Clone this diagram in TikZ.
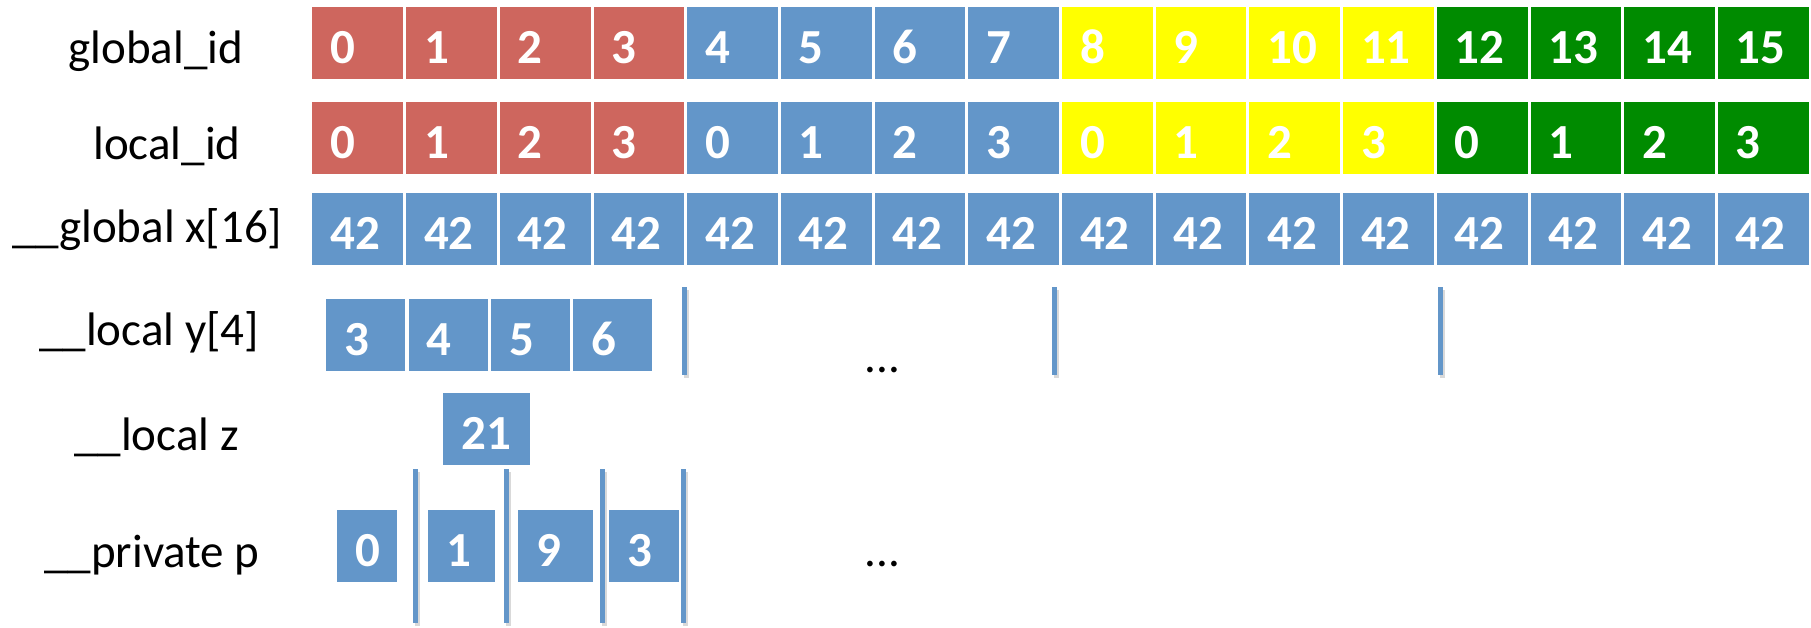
\documentclass[tikz,border=0pt]{standalone}
\usepackage{fontspec}
\setmainfont{Carlito}
\definecolor{cred}{RGB}{206,102,94}
\definecolor{cblue}{RGB}{99,150,201}
\definecolor{cyellow}{RGB}{255,255,0}
\definecolor{cgreen}{RGB}{0,139,0}
\newcommand{\cellfnt}{\fontsize{24.5}{29}\selectfont\bfseries}
\newcommand{\labfnt}{\fontsize{23.5}{28}\selectfont}
\begin{document}
\begin{tikzpicture}[x=0.5pt,y=-0.5pt,
  cellbox/.style={rectangle, anchor=north west, inner xsep=9pt, inner ysep=0pt,
    minimum height=36pt, text height=20pt, text depth=0pt, text=white,
    font=\cellfnt, align=left, text width=#1},
  cellbox/.default=27.35pt,
  rowlabel/.style={anchor=base west, inner sep=0pt, font=\labfnt},
  sepline/.style={draw=cblue, line width=2.5pt},
  sepshadow/.style={draw=black!15, line width=2.5pt}]
\useasboundingbox (0,0) rectangle (1811,627);

% row labels
\node[rowlabel] (labg) at (68,63) {global\_id};
\node[rowlabel] (labl) at (93,159) {local\_id};
\node[rowlabel] (labx) at (12,242) {\_\_global x[16]};
\node[rowlabel] (laby) at (39,345) {\_\_local y[4]};
\node[rowlabel] (labz) at (74,450) {\_\_local z};
\node[rowlabel] (labp) at (44,567) {\_\_private p};

% global_id, local_id, __global x rows
\foreach \i/\c in {0/cred,1/cred,2/cred,3/cred,4/cblue,5/cblue,6/cblue,7/cblue,
  8/cyellow,9/cyellow,10/cyellow,11/cyellow,12/cgreen,13/cgreen,14/cgreen,15/cgreen}{
  \pgfmathtruncatemacro\loc{mod(\i,4)}
  \node[cellbox, fill=\c] (g\i) at ({312+\i*93.7},7) {\i};
  \node[cellbox, fill=\c] (l\i) at ({312+\i*93.7},102) {\loc};
  \node[cellbox, fill=cblue] (x\i) at ({312+\i*93.7},193) {42};
}

% __local y[4]
\node[cellbox=21.5pt, fill=cblue] (y0) at (326,299) {3};
\node[cellbox=21.5pt, fill=cblue] (y1) at (408.5,299) {4};
\node[cellbox=21.5pt, fill=cblue] (y2) at (491,299) {5};
\node[cellbox=21.5pt, fill=cblue] (y3) at (573,299) {6};

% __local z
\node[cellbox=25.5pt, fill=cblue] (z0) at (443,393) {21};

% __private p
\node[cellbox=12pt, fill=cblue] (p0) at (337,510) {0};
\node[cellbox=15.5pt, fill=cblue] (p1) at (428,510) {1};
\node[cellbox=19.5pt, fill=cblue] (p2) at (518,510) {9};
\node[cellbox=17pt, fill=cblue] (p3) at (609,510) {3};

% ellipses
\node[rowlabel] (dots1) at (864,372) {...};
\node[rowlabel] (dots2) at (864,566) {...};

% work-group separators
\foreach \sx in {684,1054,1440}{
  \draw[sepshadow] (\sx+2,290) -- (\sx+2,378);
  \draw[sepline] (\sx,287) -- (\sx,375);
}
% work-item separators
\foreach \sx in {415,506,602,683}{
  \draw[sepshadow] (\sx+2,472) -- (\sx+2,626);
  \draw[sepline] (\sx,469) -- (\sx,623);
}
\end{tikzpicture}
\end{document}
